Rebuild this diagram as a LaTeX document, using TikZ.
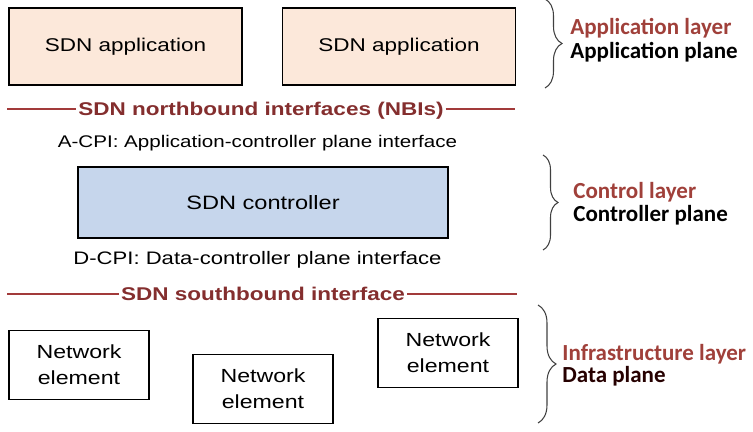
\documentclass[tikz,border=0pt]{standalone}
\usepackage{fontspec}
\setmainfont{Liberation Sans}[FakeStretch=1.22]
\newfontfamily\layerfont{Carlito}
\usetikzlibrary{decorations.pathreplacing}
\definecolor{appfill}{HTML}{FCE8DA}
\definecolor{ctrlfill}{HTML}{C6D6EC}
\definecolor{ifred}{HTML}{A23A3A}
\definecolor{iftext}{HTML}{842E2E}
\definecolor{layerred}{HTML}{A0403A}

\begin{document}
\begin{tikzpicture}[x=0.02cm,y=-0.02cm,box/.style={draw=black,line width=0.9pt,align=center,inner sep=2pt},appbox/.style={box,fill=appfill,minimum width=4.66cm,minimum height=1.54cm,font=\fontsize{10.5}{15}\selectfont},ctrlbox/.style={box,fill=ctrlfill,minimum width=7.4cm,minimum height=1.42cm,font=\fontsize{11}{15}\selectfont},nebox/.style={box,fill=white,minimum width=2.8cm,minimum height=1.38cm,font=\fontsize{10.8}{14.8}\selectfont},iface/.style={text=iftext,font=\bfseries\fontsize{10.5}{13}\selectfont,inner xsep=1pt,inner ysep=0pt,text height=0.72em,text depth=0pt},ifline/.style={draw=ifred,line width=1.2pt},note/.style={anchor=base,inner sep=0pt},layer/.style={anchor=base west,inner sep=0pt,text=layerred,font=\layerfont\bfseries\fontsize{13.1}{15}\selectfont},plane/.style={layer,text=black},brace/.style={decorate,draw=black!75,line width=0.6pt}]
\useasboundingbox (0,0) rectangle (753,432);
% application layer
\node[appbox] (app1) at (125.5,46.5) {SDN application};
\node[appbox] (app2) at (399,46.5) {SDN application};
% northbound interface
\node[iface] (nbi) at (261,109) {SDN northbound interfaces (NBIs)};
\coordinate (nbl) at (7,109);
\coordinate (nbr) at (515,109);
\draw[ifline] (nbl) -- (nbi);
\draw[ifline] (nbi) -- (nbr);
\node[note,font=\fontsize{9.6}{12}\selectfont] (acpi) at (257.5,148) {A-CPI: Application-controller plane interface};
% controller
\node[ctrlbox] (ctrl) at (263,202.5) {SDN controller};
\node[note,font=\fontsize{10.3}{12}\selectfont] (dcpi) at (257.5,264) {D-CPI: Data-controller plane interface};
% southbound interface
\node[iface] (sbi) at (263,294) {SDN southbound interface};
\coordinate (sbl) at (7,294);
\coordinate (sbr) at (517,294);
\draw[ifline] (sbl) -- (sbi);
\draw[ifline] (sbi) -- (sbr);
% network elements
\node[nebox] (ne1) at (79,365) {Network\\element};
\node[nebox] (ne2) at (263,389) {Network\\element};
\node[nebox] (ne3) at (448,353) {Network\\element};
% braces and layer names
\coordinate (appt) at (545,-1);
\coordinate (appb) at (545,88);
\coordinate (ctrlt) at (543,155);
\coordinate (ctrlb) at (543,250);
\coordinate (inft) at (538,305);
\coordinate (infb) at (538,423);
\draw[brace,decoration={brace,amplitude=0.34cm}] (appt) -- (appb);
\draw[brace,decoration={brace,amplitude=0.3cm}] (ctrlt) -- (ctrlb);
\draw[brace,decoration={brace,amplitude=0.36cm}] (inft) -- (infb);
\node[layer] (appl) at (570,35) {Application layer};
\node[plane] (appp) at (570,59) {Application plane};
\node[layer] (ctrll) at (573,198) {Control layer};
\node[plane] (ctrlp) at (573,221) {Controller plane};
\node[layer] (infl) at (562,360) {Infrastructure layer};
\node[plane,text=black!85!red] (infp) at (562,382) {Data plane};
\end{tikzpicture}
\end{document}
